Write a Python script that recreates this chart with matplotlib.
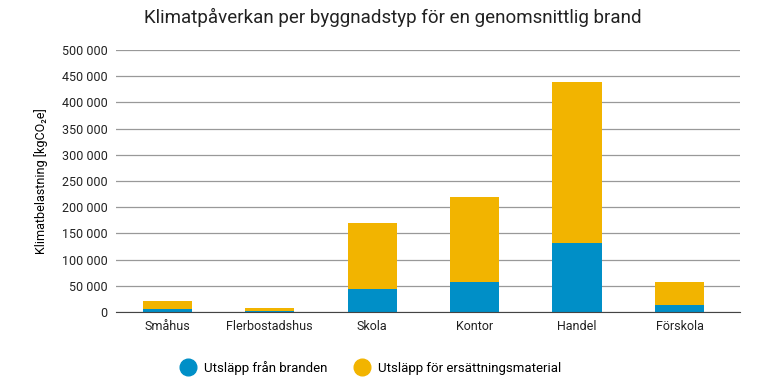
import numpy as np
import matplotlib.pyplot as plt
from matplotlib.lines import Line2D
from matplotlib.ticker import FuncFormatter

plt.rcParams['font.family'] = ['Roboto', 'DejaVu Sans']

categories = ['Småhus', 'Flerbostadshus', 'Skola', 'Kontor', 'Handel', 'Förskola']
brand = [5000, 1000, 44000, 57000, 132000, 13000]
ersattning = [16000, 7000, 126000, 162000, 307000, 44000]
series_labels = ['Utsläpp från branden', 'Utsläpp för ersättningsmaterial']
colors = ['#008fc7', '#f2b400']

fig = plt.figure(figsize=(7.68, 3.88), dpi=100)
ax = fig.add_axes([116 / 768, 1 - 312 / 388, 624 / 768, 262 / 388])

x = np.arange(len(categories))
ax.bar(x, brand, width=0.48, color=colors[0], zorder=3)
ax.bar(x, ersattning, width=0.48, bottom=brand, color=colors[1], zorder=3)

ax.set_xlim(-0.5, 5.59)
ax.set_ylim(0, 500000)
ax.set_yticks(np.arange(0, 500001, 50000))
ax.yaxis.set_major_formatter(FuncFormatter(lambda v, p: f'{int(v):,}'.replace(',', ' ')))
ax.set_xticks(x)
ax.set_xticklabels(categories)
ax.tick_params(axis='both', length=0, labelsize=9, colors='#222222')
ax.tick_params(axis='x', pad=6)
ax.tick_params(axis='y', pad=6)
ax.grid(axis='y', color='#999999', linewidth=0.9, zorder=0)
for s in ['top', 'right', 'left']:
    ax.spines[s].set_visible(False)
ax.spines['bottom'].set_color('#444444')
ax.spines['bottom'].set_zorder(4)
ax.set_ylabel('Klimatbelastning [kgCO₂e]', fontsize=9, labelpad=10)

fig.text(393 / 768, 1 - 17 / 388, 'Klimatpåverkan per byggnadstyp för en genomsnittlig brand',
         ha='center', va='center', fontsize=13.5, color='#222222')

handles = [Line2D([], [], marker='o', linestyle='none', markersize=12,
                  markerfacecolor=c, markeredgecolor=c) for c in colors]
fig.legend(handles, series_labels, loc='center', bbox_to_anchor=(368 / 768, 1 - 368 / 388),
           ncol=2, frameon=False, fontsize=9.5, handletextpad=0.2, columnspacing=1.6)

fig.savefig('out.png', dpi=100)
